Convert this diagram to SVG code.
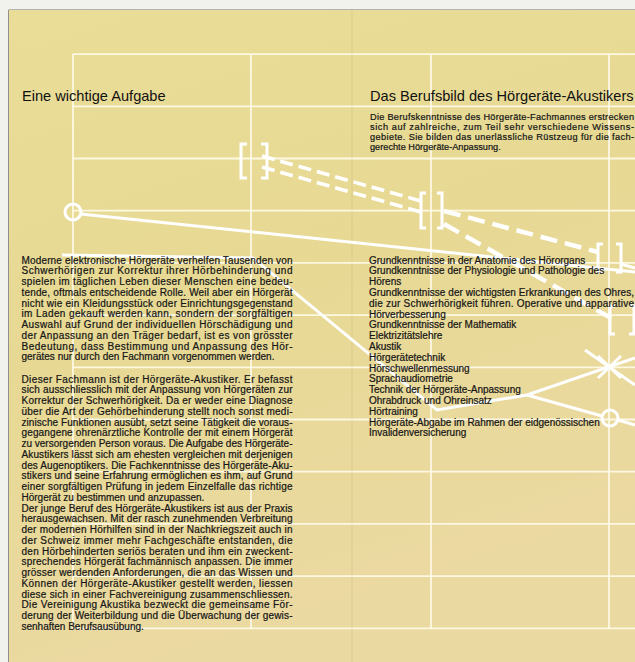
<svg xmlns="http://www.w3.org/2000/svg" width="635" height="662" viewBox="0 0 635 662">
<defs>
<linearGradient id="paper" x1="0" y1="0" x2="0.3" y2="1">
<stop offset="0" stop-color="#e9dd98"/>
<stop offset="0.5" stop-color="#e7d994"/>
<stop offset="1" stop-color="#ebd9a2"/>
</linearGradient>
</defs>
<style>
.grid{stroke:#fffbea;stroke-width:1.8;opacity:0.9;fill:none}
.deco{stroke:#ffffff;stroke-width:3;fill:none;stroke-linecap:butt;stroke-linejoin:miter}
.dash{stroke-dasharray:13 6;stroke-width:3.6}
.dash2{stroke-dasharray:17 8;stroke-width:4.5}
.t{font-family:"Liberation Sans",Arial,Helvetica,sans-serif;font-size:10px;fill:#161616;stroke:#161616;stroke-width:0.22}
.ti{font-family:"Liberation Sans",Arial,Helvetica,sans-serif;font-size:9.2px;fill:#161616;stroke:#161616;stroke-width:0.22}
.h{font-family:"Liberation Sans",Arial,Helvetica,sans-serif;font-size:14.6px;fill:#111111}
</style>
<rect x="0" y="0" width="635" height="662" fill="#f1f1ee"/>
<rect x="9" y="10" width="626" height="652" fill="url(#paper)"/>
<line x1="8.5" y1="10" x2="8.5" y2="662" stroke="#8f8f8f" stroke-width="1"/>
<line x1="8.5" y1="9.5" x2="635" y2="9.5" stroke="#b5b5b0" stroke-width="1"/>
<line x1="352" y1="10" x2="352" y2="662" stroke="#dccd90" stroke-width="1.5" opacity="0.7"/>

<g id="grid">
<path class="grid" d="M73 54V629M251 54V629M431 54V629M609 54V629"/>
<path class="grid" d="M73 54.1H635M73 106.3H635M73 158.5H635M73 210.7H635M73 262.9H635M73 315.1H635M73 367.3H635M73 419.5H635M73 471.7H635M73 523.9H635M73 576.1H635M73 628.3H635"/>
</g>

<g id="connectors">
<line class="deco dash" x1="262" y1="156" x2="421" y2="201"/>
<line class="deco dash" x1="262" y1="167" x2="421" y2="212"/>
<line class="deco dash2" x1="444" y1="211" x2="598" y2="252"/>
<line class="deco dash2" x1="444" y1="224" x2="611" y2="318"/>
<line class="deco" x1="621" y1="264" x2="635" y2="268"/>
<line class="deco" x1="633" y1="323" x2="635" y2="324"/>
<line class="deco" x1="81" y1="214" x2="635" y2="272"/>
<polyline class="deco" points="62,255 253,258 437,410 527,395"/>
<line class="deco" x1="527" y1="395" x2="635" y2="358"/>
<line class="deco" x1="527" y1="395" x2="602" y2="416"/>
<line class="deco" x1="618" y1="420" x2="635" y2="425"/>
</g>

<g id="node-circle-1"><circle class="deco" cx="73" cy="212" r="8"/></g>
<g id="node-bracket-1"><path class="deco" d="M247 144H241V178H247M261 144H267V178H261"/></g>
<g id="node-bracket-2"><path class="deco" d="M426 193H421V228H426M437 193H442V228H437"/></g>
<g id="node-bracket-3"><path class="deco" d="M603 244H598V272H603M616 244H621V272H616"/></g>
<g id="node-bracket-4"><path class="deco" d="M615 306H610V334H615M629 306H634V334H629"/></g>
<g id="node-cross"><path class="deco" d="M598 356L621 378M621 356L598 378"/><line class="deco" x1="585" y1="350" x2="635" y2="385"/></g>
<g id="node-circle-2"><circle class="deco" cx="610" cy="418" r="8"/></g>

<g id="left-column">
<text class="h" x="22" y="101">Eine wichtige Aufgabe</text>
<text class="t" x="21.5" y="263.5" textLength="271" lengthAdjust="spacing">Moderne elektronische Hörgeräte verhelfen Tausenden von</text>
<text class="t" x="21.5" y="274.25" textLength="271" lengthAdjust="spacing">Schwerhörigen zur Korrektur ihrer Hörbehinderung und</text>
<text class="t" x="21.5" y="285" textLength="271" lengthAdjust="spacing">spielen im täglichen Leben dieser Menschen eine bedeu-</text>
<text class="t" x="21.5" y="295.75" textLength="271" lengthAdjust="spacing">tende, oftmals entscheidende Rolle. Weil aber ein Hörgerät</text>
<text class="t" x="21.5" y="306.5" textLength="271" lengthAdjust="spacing">nicht wie ein Kleidungsstück oder Einrichtungsgegenstand</text>
<text class="t" x="21.5" y="317.25" textLength="271" lengthAdjust="spacing">im Laden gekauft werden kann, sondern der sorgfältigen</text>
<text class="t" x="21.5" y="328" textLength="271" lengthAdjust="spacing">Auswahl auf Grund der individuellen Hörschädigung und</text>
<text class="t" x="21.5" y="338.75" textLength="271" lengthAdjust="spacing">der Anpassung an den Träger bedarf, ist es von grösster</text>
<text class="t" x="21.5" y="349.5" textLength="271" lengthAdjust="spacing">Bedeutung, dass Bestimmung und Anpassung des Hör-</text>
<text class="t" x="21.5" y="360.25">gerätes nur durch den Fachmann vorgenommen werden.</text>

<text class="t" x="21.5" y="382.5" textLength="271" lengthAdjust="spacing">Dieser Fachmann ist der Hörgeräte-Akustiker. Er befasst</text>
<text class="t" x="21.5" y="393.25" textLength="271" lengthAdjust="spacing">sich ausschliesslich mit der Anpassung von Hörgeräten zur</text>
<text class="t" x="21.5" y="404" textLength="271" lengthAdjust="spacing">Korrektur der Schwerhörigkeit. Da er weder eine Diagnose</text>
<text class="t" x="21.5" y="414.75" textLength="271" lengthAdjust="spacing">über die Art der Gehörbehinderung stellt noch sonst medi-</text>
<text class="t" x="21.5" y="425.5" textLength="271" lengthAdjust="spacing">zinische Funktionen ausübt, setzt seine Tätigkeit die voraus-</text>
<text class="t" x="21.5" y="436.25" textLength="271" lengthAdjust="spacing">gegangene ohrenärztliche Kontrolle der mit einem Hörgerät</text>
<text class="t" x="21.5" y="447" textLength="271" lengthAdjust="spacing">zu versorgenden Person voraus. Die Aufgabe des Hörgeräte-</text>
<text class="t" x="21.5" y="457.75" textLength="271" lengthAdjust="spacing">Akustikers lässt sich am ehesten vergleichen mit derjenigen</text>
<text class="t" x="21.5" y="468.5" textLength="271" lengthAdjust="spacing">des Augenoptikers. Die Fachkenntnisse des Hörgeräte-Aku-</text>
<text class="t" x="21.5" y="479.25" textLength="271" lengthAdjust="spacing">stikers und seine Erfahrung ermöglichen es ihm, auf Grund</text>
<text class="t" x="21.5" y="490" textLength="271" lengthAdjust="spacing">einer sorgfältigen Prüfung in jedem Einzelfalle das richtige</text>
<text class="t" x="21.5" y="500.75">Hörgerät zu bestimmen und anzupassen.</text>
<text class="t" x="21.5" y="511.5" textLength="271" lengthAdjust="spacing">Der junge Beruf des Hörgeräte-Akustikers ist aus der Praxis</text>
<text class="t" x="21.5" y="522.25" textLength="271" lengthAdjust="spacing">herausgewachsen. Mit der rasch zunehmenden Verbreitung</text>
<text class="t" x="21.5" y="533" textLength="271" lengthAdjust="spacing">der modernen Hörhilfen sind in der Nachkriegszeit auch in</text>
<text class="t" x="21.5" y="543.75" textLength="271" lengthAdjust="spacing">der Schweiz immer mehr Fachgeschäfte entstanden, die</text>
<text class="t" x="21.5" y="554.5" textLength="271" lengthAdjust="spacing">den Hörbehinderten seriös beraten und ihm ein zweckent-</text>
<text class="t" x="21.5" y="565.25" textLength="271" lengthAdjust="spacing">sprechendes Hörgerät fachmännisch anpassen. Die immer</text>
<text class="t" x="21.5" y="576" textLength="271" lengthAdjust="spacing">grösser werdenden Anforderungen, die an das Wissen und</text>
<text class="t" x="21.5" y="586.75" textLength="271" lengthAdjust="spacing">Können der Hörgeräte-Akustiker gestellt werden, liessen</text>
<text class="t" x="21.5" y="597.5" textLength="271" lengthAdjust="spacing">diese sich in einer Fachvereinigung zusammenschliessen.</text>
<text class="t" x="21.5" y="608.25" textLength="271" lengthAdjust="spacing">Die Vereinigung Akustika bezweckt die gemeinsame För-</text>
<text class="t" x="21.5" y="619" textLength="271" lengthAdjust="spacing">derung der Weiterbildung und die Überwachung der gewis-</text>
<text class="t" x="21.5" y="629.75">senhaften Berufsausübung.</text>
</g>

<g id="right-column">
<text class="h" x="370" y="101">Das Berufsbild des Hörgeräte-Akustikers</text>
<text class="ti" x="370" y="120" textLength="264" lengthAdjust="spacing">Die Berufskenntnisse des Hörgeräte-Fachmannes erstrecken</text>
<text class="ti" x="370" y="130" textLength="264" lengthAdjust="spacing">sich auf zahlreiche, zum Teil sehr verschiedene Wissens-</text>
<text class="ti" x="370" y="140" textLength="264" lengthAdjust="spacing">gebiete. Sie bilden das unerlässliche Rüstzeug für die fach-</text>
<text class="ti" x="370" y="150">gerechte Hörgeräte-Anpassung.</text>

<text class="t" x="369" y="263.5">Grundkenntnisse in der Anatomie des Hörorgans</text>
<text class="t" x="369" y="274.3">Grundkenntnisse der Physiologie und Pathologie des</text>
<text class="t" x="369" y="285.1">Hörens</text>
<text class="t" x="369" y="295.9" textLength="265" lengthAdjust="spacing">Grundkenntnisse der wichtigsten Erkrankungen des Ohres,</text>
<text class="t" x="369" y="306.7" textLength="265" lengthAdjust="spacing">die zur Schwerhörigkeit führen. Operative und apparative</text>
<text class="t" x="369" y="317.5">Hörverbesserung</text>
<text class="t" x="369" y="328.3">Grundkenntnisse der Mathematik</text>
<text class="t" x="369" y="339.1">Elektrizitätslehre</text>
<text class="t" x="369" y="349.9">Akustik</text>
<text class="t" x="369" y="360.7">Hörgerätetechnik</text>
<text class="t" x="369" y="371.5">Hörschwellenmessung</text>
<text class="t" x="369" y="382.3">Sprachaudiometrie</text>
<text class="t" x="369" y="393.1">Technik der Hörgeräte-Anpassung</text>
<text class="t" x="369" y="403.9">Ohrabdruck und Ohreinsatz</text>
<text class="t" x="369" y="414.7">Hörtraining</text>
<text class="t" x="369" y="425.5">Hörgeräte-Abgabe im Rahmen der eidgenössischen</text>
<text class="t" x="369" y="436.3">Invalidenversicherung</text>
</g>
</svg>
